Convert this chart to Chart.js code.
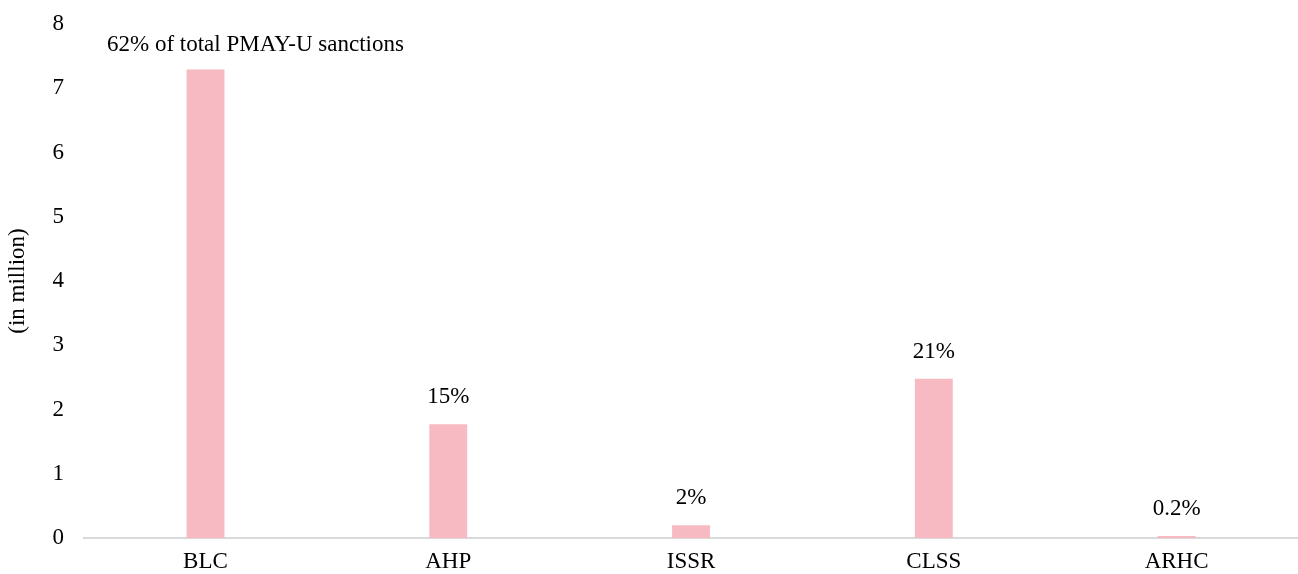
<!DOCTYPE html>
<html>
<head>
<meta charset="utf-8">
<script src="https://cdn.jsdelivr.net/npm/chart.js@4/dist/chart.umd.min.js"></script>
<style>
  html, body { margin: 0; padding: 0; background: #fff; }
  #wrap { width: 1298px; height: 574px; }
</style>
</head>
<body>
<div id="wrap"><canvas id="grafico"></canvas></div>
<script>
const categorias = ['BLC', 'AHP', 'ISSR', 'CLSS', 'ARHC'];
const valores = [7.29, 1.77, 0.2, 2.48, 0.03];
const rotulos = ['62% of total PMAY-U sanctions', '15%', '2%', '21%', '0.2%'];
const ticksY = [0, 1, 2, 3, 4, 5, 6, 7, 8];

const fonte = '"Liberation Serif", "Times New Roman", serif';

// rótulos em cima das barras
const rotulosPlugin = {
    id: 'rotulos',
    afterDatasetsDraw(chart) {
        const ctx = chart.ctx;
        const meta = chart.getDatasetMeta(0);
        ctx.save();
        ctx.font = '23px ' + fonte;
        ctx.fillStyle = '#000';
        ctx.textBaseline = 'middle';
        meta.data.forEach((bar, i) => {
            if (i === 0) {
                ctx.textAlign = 'left';
                ctx.fillText(rotulos[i], 107, bar.y - 25);
            } else {
                ctx.textAlign = 'center';
                ctx.fillText(rotulos[i], bar.x, bar.y - 27);
            }
        });
        ctx.restore();
    }
};

new Chart(document.getElementById('grafico').getContext('2d'), {
    type: 'bar',
    data: {
        labels: categorias,
        datasets: [{
            data: valores,
            backgroundColor: '#F7BAC3',
            barPercentage: 0.312,
            categoryPercentage: 0.5
        }]
    },
    options: {
        responsive: true,
        maintainAspectRatio: false,
        animation: false,
        layout: { padding: { left: -1, right: -6, top: 24, bottom: 0 } },
        plugins: {
            legend: { display: false },
            tooltip: { enabled: false }
        },
        scales: {
            x: {
                grid: { display: false, drawTicks: false },
                border: { color: '#d9d9d9', width: 2 },
                ticks: { color: '#000', font: { family: fonte, size: 23, lineHeight: 1 }, padding: 12 },
                afterFit(scale) { scale.height = 36; }
            },
            y: {
                min: 0,
                max: 8,
                afterBuildTicks(axis) { axis.ticks = ticksY.map(v => ({ value: v })); },
                afterFit(scale) { scale.paddingTop = 0; scale.paddingBottom = 0; },
                grid: { display: false, drawTicks: false },
                border: { display: false },
                ticks: { color: '#000', font: { family: fonte, size: 23, lineHeight: 1 }, padding: 20 },
                title: {
                    display: true,
                    text: '(in million)',
                    color: '#000',
                    font: { family: fonte, size: 23 },
                    padding: { top: 5, bottom: 1 }
                }
            }
        }
    },
    plugins: [rotulosPlugin]
});
</script>
</body>
</html>
